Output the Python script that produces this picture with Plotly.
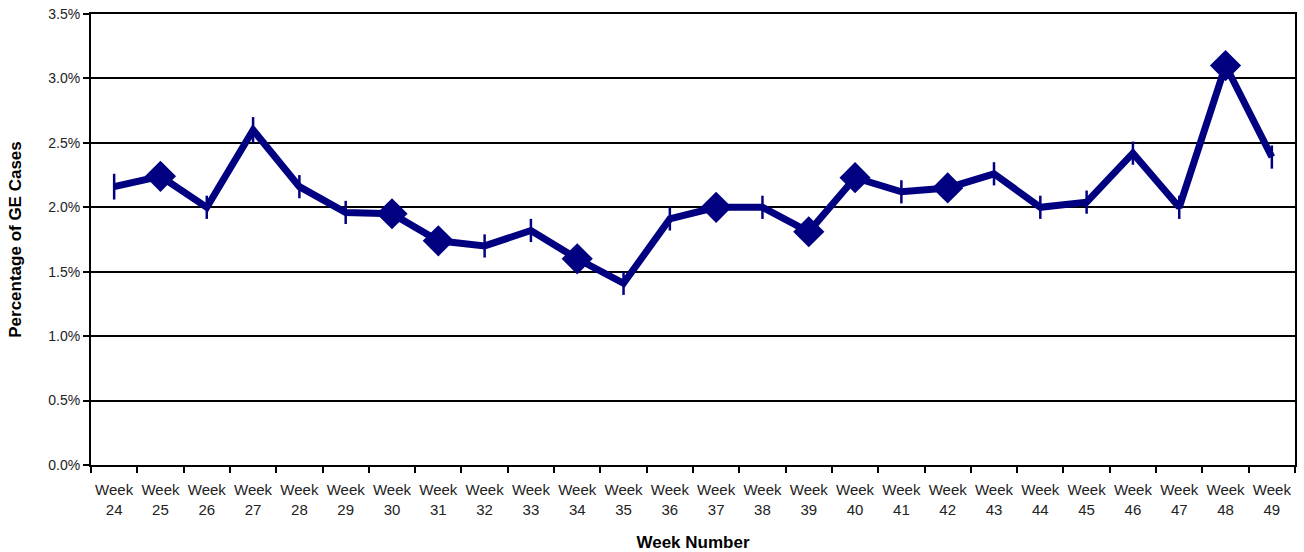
import plotly.graph_objects as go

weeks = [f"Week<br>{w}" for w in range(24, 50)]
pct = [2.16, 2.24, 2.00, 2.60, 2.16, 1.96, 1.95, 1.74, 1.70, 1.82, 1.60, 1.41, 1.91,
       2.00, 2.00, 1.81, 2.23, 2.12, 2.15, 2.26, 2.00, 2.04, 2.42, 2.00, 3.10, 2.39]
err = [0.10, 0.09, 0.09, 0.10, 0.09, 0.09, 0.09, 0.09, 0.09, 0.09, 0.09, 0.09, 0.09,
       0.09, 0.09, 0.09, 0.09, 0.09, 0.09, 0.09, 0.09, 0.09, 0.09, 0.09, 0.10, 0.09]
diamond_weeks = [25, 30, 31, 34, 37, 39, 40, 42, 48]
y_ticks = [0.0, 0.005, 0.01, 0.015, 0.02, 0.025, 0.03, 0.035]
y_ticktext = ["0.0%", "0.5%", "1.0%", "1.5%", "2.0%", "2.5%", "3.0%", "3.5%"]

vals = [v / 100 for v in pct]
errs = [e / 100 for e in err]
dx = [f"Week<br>{w}" for w in diamond_weeks]
dy = [vals[w - 24] for w in diamond_weeks]

navy = "#000080"
fig = go.Figure()
fig.add_trace(go.Scatter(
    x=weeks, y=vals, mode="lines",
    line=dict(color=navy, width=7),
    error_y=dict(type="data", array=errs, visible=True, color=navy, thickness=2.5, width=0),
    showlegend=False, hoverinfo="skip"))
fig.add_trace(go.Scatter(
    x=dx, y=dy, mode="markers",
    marker=dict(symbol="diamond", size=24, color=navy),
    showlegend=False))

fig.update_layout(
    width=1304, height=552,
    margin=dict(l=91, r=9, t=14, b=87),
    plot_bgcolor="white", paper_bgcolor="white",
    font=dict(family="Liberation Sans, Arial, sans-serif", color="#222", size=13),
)
fig.update_xaxes(
    type="category", range=[-0.5, 25.5], tickson="boundaries", ticks="outside",
    ticklen=6, tickwidth=2, tickangle=0, automargin=False, ticklabelstandoff=10,
    tickcolor="black", showline=True, linecolor="black", linewidth=2, mirror=True,
    showgrid=False, tickfont=dict(size=15),
    title=dict(text="<b>Week Number</b>", font=dict(size=17, color="black"), standoff=28),
)
fig.update_yaxes(
    range=[0, 0.035], tickmode="array", tickvals=y_ticks, ticktext=y_ticktext,
    ticks="outside", ticklen=6, ticklabeloverflow="allow",
    tickwidth=2, tickcolor="black", showline=True, linecolor="black", linewidth=2,
    automargin=False,
    mirror=True, showgrid=True, gridcolor="black", gridwidth=2, zeroline=False,
    tickfont=dict(size=14),
    title=dict(text="<b>Percentage of GE Cases</b>", font=dict(size=17, color="black"), standoff=22),
)
fig.write_html("out.html",
               config={"displayModeBar": False},
               post_script="document.body.style.margin='0';document.body.style.overflow='hidden';")
